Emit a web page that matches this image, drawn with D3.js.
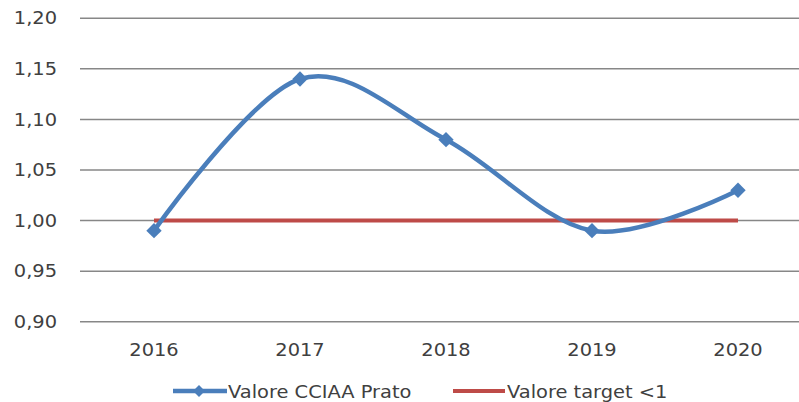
<!DOCTYPE html>
<html>
<head>
<meta charset="utf-8">
<script src="https://cdn.jsdelivr.net/npm/d3@7"></script>
<style>
  html, body { margin: 0; padding: 0; background: #fff; }
  svg text { font-family: "DejaVu Sans", sans-serif; fill: #404040; font-size: 17.5px; }
</style>
</head>
<body>
<div id="chart"></div>
<script>
// dati
const years = ['2016', '2017', '2018', '2019', '2020'];
const valoreCCIAA = [0.99, 1.14, 1.08, 0.99, 1.03];
const valoreTarget = [1.00, 1.00, 1.00, 1.00, 1.00];
const yTicks = [0.90, 0.95, 1.00, 1.05, 1.10, 1.15, 1.20];

const W = 799, H = 402;
const sx = 1.11; // testo un po' allargato come nell'originale
const svg = d3.select('#chart').append('svg')
  .attr('width', W).attr('height', H);

const x = d3.scaleBand().domain(years).range([81, 811]);
const y = d3.scaleLinear().domain([0.90, 1.20]).range([321.7, 18.3]);
const cx = d => x(d) + x.bandwidth() / 2;
const fmt = v => d3.format('.2f')(v).replace('.', ',');
const place = (px, py) => `translate(${px},${py}) scale(${sx},1)`;

// griglia
svg.append('g').selectAll('line').data(yTicks).join('line')
  .attr('x1', 80).attr('x2', W)
  .attr('y1', d => y(d)).attr('y2', d => y(d))
  .attr('stroke', '#878787').attr('stroke-width', 1.5);

// etichette asse y
svg.append('g').selectAll('text').data(yTicks).join('text')
  .attr('transform', d => place(57, y(d)))
  .attr('text-anchor', 'end').attr('dominant-baseline', 'central')
  .text(fmt);

// etichette asse x
svg.append('g').selectAll('text').data(years).join('text')
  .attr('transform', d => place(cx(d), 356))
  .attr('text-anchor', 'middle')
  .text(d => d);

const blue = '#4a7ebb', red = '#be4b48';

// linea target
const lineStraight = d3.line().x((d, i) => cx(years[i])).y(d => y(d));
svg.append('path').datum(valoreTarget)
  .attr('d', lineStraight)
  .attr('fill', 'none').attr('stroke', red).attr('stroke-width', 4);

// linea CCIAA smussata
const lineSmooth = d3.line().x((d, i) => cx(years[i])).y(d => y(d))
  .curve(d3.curveCardinal.tension(0));
svg.append('path').datum(valoreCCIAA)
  .attr('d', lineSmooth)
  .attr('fill', 'none').attr('stroke', blue).attr('stroke-width', 4.5);

const diamond = d3.symbol().type(d3.symbolDiamond2).size(150);
svg.append('g').selectAll('path').data(valoreCCIAA).join('path')
  .attr('d', diamond)
  .attr('transform', (d, i) => `translate(${cx(years[i])},${y(d)})`)
  .attr('fill', blue);

// legenda
const leg = svg.append('g');
leg.append('line').attr('x1', 173).attr('x2', 227).attr('y1', 391).attr('y2', 391)
  .attr('stroke', blue).attr('stroke-width', 4.5);
leg.append('path').attr('d', d3.symbol().type(d3.symbolDiamond2).size(90))
  .attr('transform', 'translate(199,391)').attr('fill', blue);
leg.append('text').attr('transform', place(228, 397.5)).text('Valore CCIAA Prato');

leg.append('line').attr('x1', 453).attr('x2', 505).attr('y1', 391).attr('y2', 391)
  .attr('stroke', red).attr('stroke-width', 4);
leg.append('text').attr('transform', place(507, 397.5)).text('Valore target <1');
</script>
</body>
</html>
